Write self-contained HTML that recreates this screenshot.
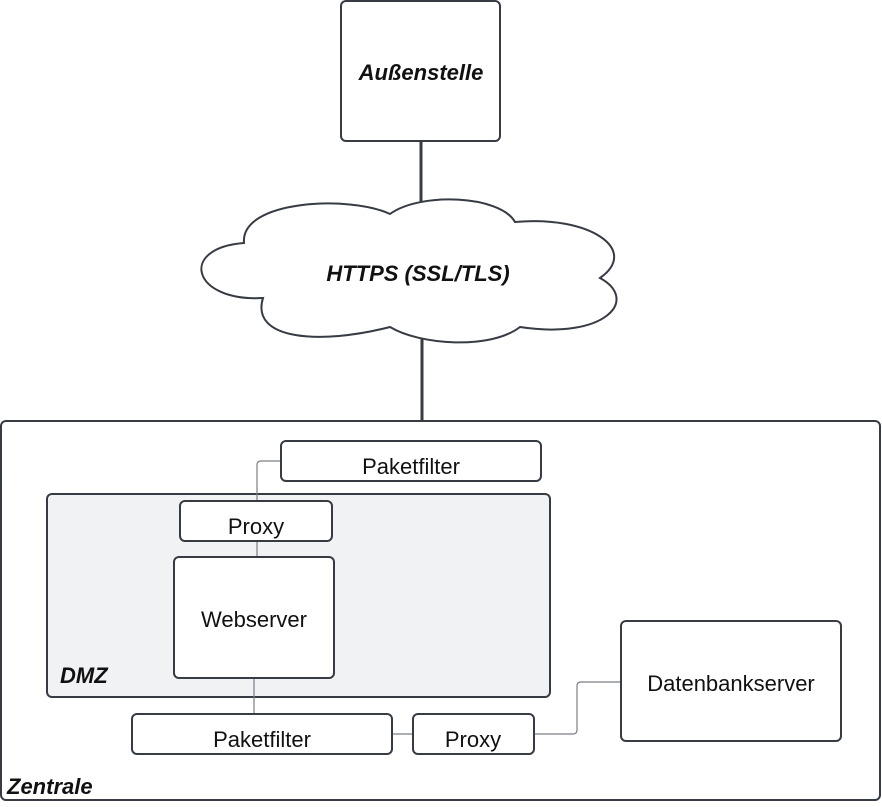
<!DOCTYPE html>
<html><head><style>html,body{margin:0;padding:0;background:#fff}</style></head><body>
<svg width="882" height="802" viewBox="0 0 882 802" xmlns="http://www.w3.org/2000/svg" font-family="Liberation Sans, sans-serif">
<g fill="none" stroke="#363b44">
<line x1="421" y1="141" x2="421" y2="205" stroke-width="3"/>
<line x1="422" y1="335" x2="422" y2="441" stroke-width="3"/>
</g>
<rect x="1" y="421" width="879" height="379" rx="5" fill="#fff" stroke="#363b44" stroke-width="2"/>
<rect x="341" y="1" width="159" height="140" rx="5" fill="#fff" stroke="#363b44" stroke-width="2"/>
<path d="M263,298 C192,302 178,248 244,243 C240,200 350,195 390,214 C420,192 500,195 515,222 C590,215 640,250 600,278 C640,300 605,340 520,327 C490,350 420,345 390,327 C320,345 250,340 263,298 Z" fill="#fff" stroke="#363b44" stroke-width="2"/>
<rect x="47" y="494" width="503" height="203" rx="5" fill="#f1f2f4" stroke="#363b44" stroke-width="2"/>
<g fill="none" stroke="#7a7f86" stroke-width="1.2">
<path d="M281,461 H261 Q257,461 257,465 V501"/>
<line x1="257" y1="541" x2="257" y2="557"/>
<line x1="254" y1="678" x2="254" y2="714"/>
<line x1="392" y1="734" x2="413" y2="734"/>
<path d="M534,734 H573 Q577,734 577,730 V686 Q577,682 581,682 H621"/>
</g>
<g fill="#fff" stroke="#363b44" stroke-width="2">
<rect x="281" y="441" width="260" height="40" rx="5"/>
<rect x="180" y="501" width="152" height="40" rx="5"/>
<rect x="174" y="557" width="160" height="121" rx="5"/>
<rect x="132" y="714" width="260" height="40" rx="5"/>
<rect x="413" y="714" width="121" height="40" rx="5"/>
<rect x="621" y="621" width="220" height="120" rx="5"/>
</g>
<g fill="#111" font-size="22" text-anchor="middle">
<text x="421" y="80" font-weight="bold" font-style="italic">Außenstelle</text>
<text x="418" y="281" font-weight="bold" font-style="italic">HTTPS (SSL/TLS)</text>
<text x="411" y="474">Paketfilter</text>
<text x="256" y="534">Proxy</text>
<text x="254" y="627">Webserver</text>
<text x="262" y="747">Paketfilter</text>
<text x="473" y="747">Proxy</text>
<text x="731" y="691">Datenbankserver</text>
<text x="60" y="683" text-anchor="start" font-weight="bold" font-style="italic">DMZ</text>
<text x="7" y="794" text-anchor="start" font-weight="bold" font-style="italic">Zentrale</text>
</g>
</svg>
</body></html>
